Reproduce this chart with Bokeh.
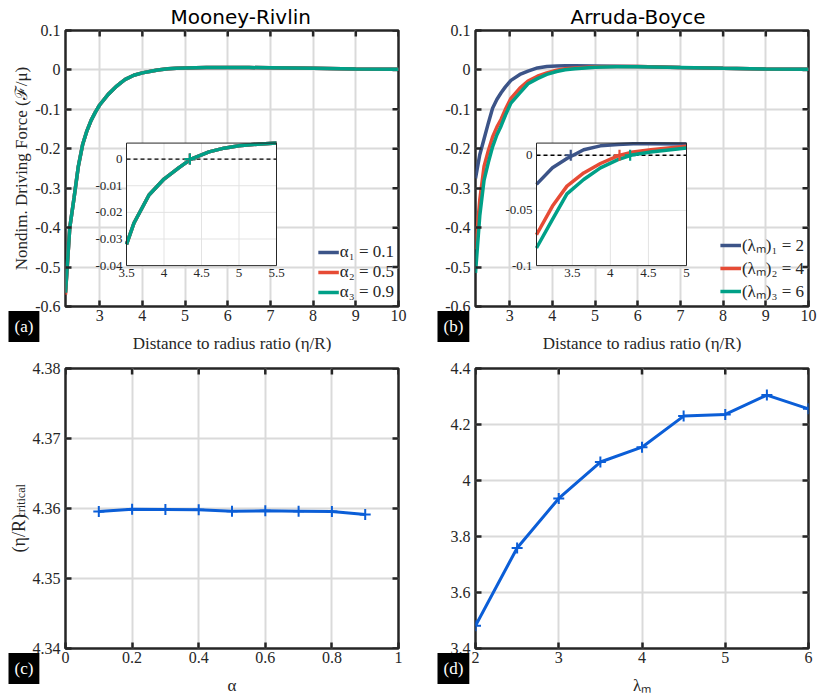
import math
from bokeh.plotting import figure
from bokeh.models import (Range1d, FixedTicker, CustomJSTickFormatter,
                          Legend, LegendItem, Title)
from bokeh.layouts import gridplot
from bokeh.embed import file_html
from bokeh.resources import INLINE

# ---------------- data ----------------
eta_mr = [2.2, 2.3, 2.4, 2.5, 2.6, 2.7, 2.8, 2.9, 3.0, 3.2, 3.4, 3.5, 3.6, 3.8, 4.0,
          4.2, 4.36, 4.6, 4.8, 5.0, 5.25, 5.5, 6.0, 6.5, 7.0, 8.0, 9.0, 10.0]
mr_alpha1 = [-0.565, -0.40, -0.325, -0.245, -0.19, -0.155, -0.128, -0.107, -0.089, -0.062,
             -0.041, -0.032, -0.024, -0.0135, -0.0075, -0.0032, 0.0, 0.0027, 0.0041, 0.005,
             0.0056, 0.006, 0.0062, 0.006, 0.0055, 0.004, 0.0025, 0.0015]
mr_alpha2 = [-0.57, -0.40, -0.325, -0.245, -0.19, -0.155, -0.128, -0.107, -0.089, -0.062,
             -0.041, -0.032, -0.024, -0.0135, -0.0075, -0.0032, 0.0, 0.0027, 0.0041, 0.005,
             0.0056, 0.006, 0.0062, 0.006, 0.0055, 0.004, 0.0025, 0.0015]
mr_alpha3 = [-0.565, -0.40, -0.325, -0.245, -0.19, -0.155, -0.128, -0.107, -0.089, -0.062,
             -0.041, -0.032, -0.024, -0.0135, -0.0075, -0.0032, 0.0, 0.0027, 0.0041, 0.005,
             0.0056, 0.006, 0.0062, 0.006, 0.0055, 0.004, 0.0025, 0.0015]
mr_labels = ["α₁ = 0.1", "α₂ = 0.5", "α₃ = 0.9"]
mr_cross = [4.345, 4.345, 4.345]

eta_ab = [2.2, 2.3, 2.4, 2.5, 2.6, 2.7, 2.8, 2.9, 3.03, 3.24, 3.43, 3.65, 3.87, 4.1,
          4.3, 4.53, 5.0, 5.5, 6.0, 7.0, 8.0, 9.0, 10.0]
ab_lam1 = [-0.275, -0.215, -0.175, -0.135, -0.097, -0.075, -0.058, -0.043, -0.0264, -0.0114,
           -0.003, 0.005, 0.0085, 0.0098, 0.0103, 0.0105, 0.0102, 0.0095, 0.0085, 0.006,
           0.004, 0.0025, 0.0015]
ab_lam2 = [-0.455, -0.33, -0.245, -0.205, -0.17, -0.145, -0.125, -0.10, -0.072, -0.046,
           -0.028, -0.016, -0.0075, -0.0005, 0.003, 0.005, 0.0081, 0.0088, 0.0085, 0.006,
           0.004, 0.0025, 0.0015]
ab_lam3 = [-0.515, -0.37, -0.28, -0.235, -0.195, -0.165, -0.142, -0.115, -0.084, -0.058,
           -0.035, -0.022, -0.0114, -0.004, 0.0005, 0.003, 0.0066, 0.0078, 0.008, 0.006,
           0.004, 0.0025, 0.0015]
ab_labels = ["(λₘ)₁ = 2", "(λₘ)₂ = 4", "(λₘ)₃ = 6"]
ab_cross = [3.48, 4.12, 4.26]

alpha_vals = [0.1, 0.2, 0.3, 0.4, 0.5, 0.6, 0.7, 0.8, 0.9]
crit_alpha = [4.35957, 4.35990, 4.35986, 4.35981, 4.35962, 4.35967, 4.35962, 4.35957, 4.35914]
lam_vals = [2.0, 2.5, 3.0, 3.5, 4.0, 4.5, 5.0, 5.5, 6.0]
crit_lam = [3.481, 3.759, 3.936, 4.066, 4.119, 4.230, 4.236, 4.305, 4.256]

top_xticks = [3, 4, 5, 6, 7, 8, 9, 10]
top_yticks = [-0.6, -0.5, -0.4, -0.3, -0.2, -0.1, 0.0, 0.1]
c_xticks = [0, 0.2, 0.4, 0.6, 0.8, 1.0]
c_yticks = [4.34, 4.35, 4.36, 4.37, 4.38]
d_xticks = [2, 3, 4, 5, 6]
d_yticks = [3.4, 3.6, 3.8, 4.0, 4.2, 4.4]
mr_in_xticks = [3.5, 4, 4.5, 5, 5.5]
mr_in_yticks = [-0.04, -0.03, -0.02, -0.01, 0.0]
ab_in_xticks = [3.5, 4, 4.5, 5]
ab_in_yticks = [-0.1, -0.05, 0.0]

colors = ["#3C5488", "#E64B35", "#00A087"]
line_blue = "#0B5ED7"
DARK = "#262626"
SERIF = "Liberation Serif"

fmt_code = "return String(parseFloat(tick.toFixed(4)));"


def style_axis(ax, ticks, standoff=5):
    ax.ticker = FixedTicker(ticks=ticks)
    ax.formatter = CustomJSTickFormatter(code=fmt_code)
    ax.axis_line_color = None
    ax.major_tick_in = 6
    ax.major_tick_out = 0
    ax.major_tick_line_color = DARK
    ax.major_tick_line_width = 2.5
    ax.minor_tick_line_color = None
    ax.major_label_text_font = SERIF
    ax.major_label_text_color = DARK
    ax.major_label_text_font_size = "16px"
    ax.major_label_standoff = standoff
    ax.axis_label_text_font = SERIF
    ax.axis_label_text_font_style = "normal"
    ax.axis_label_text_font_size = "17px"
    ax.axis_label_text_color = DARK
    ax.axis_label_standoff = 1


def base_fig(height, xr, yr, xt, yt, left, right, top, bottom):
    p = figure(width=409, height=height, x_range=Range1d(*xr), y_range=Range1d(*yr),
               output_backend="svg", toolbar_location=None,
               min_border_left=left, min_border_right=right,
               min_border_top=top, min_border_bottom=bottom)
    style_axis(p.below[0], xt, standoff=3)
    style_axis(p.left[0], yt)
    p.outline_line_color = DARK
    p.outline_line_width = 2.5
    p.outline_line_alpha = 1.0
    for g in (p.xgrid[0], p.ygrid[0]):
        g.grid_line_color = "#dadada"
        g.grid_line_width = 2
    p.background_fill_color = "white"
    p.border_fill_color = "white"
    p.ray(x=xt, y=[yr[1]] * len(xt), length=6, length_units="screen",
          angle=-math.pi / 2, line_color=DARK, line_width=2.5)
    p.ray(x=[xr[1]] * len(yt), y=yt, length=6, length_units="screen",
          angle=math.pi, line_color=DARK, line_width=2.5)
    return p


def add_inset(p, xs, ys, data_x, series, cross, xt_in, yt_in, box_px, frame_px):
    fx0, fx1 = p.x_range.start, p.x_range.end
    fy0, fy1 = p.y_range.start, p.y_range.end
    fw, fh = frame_px
    l, r, t, b = box_px
    xt0 = fx0 + l / fw * (fx1 - fx0)
    xt1 = fx0 + r / fw * (fx1 - fx0)
    yt1 = fy1 - t / fh * (fy1 - fy0)
    yt0 = fy1 - b / fh * (fy1 - fy0)
    sub = p.subplot(x_source=Range1d(*xs), y_source=Range1d(*ys),
                    x_target=Range1d(xt0, xt1), y_target=Range1d(yt0, yt1))
    sub.quad(left=[xs[0]], right=[xs[1]], bottom=[ys[0]], top=[ys[1]],
             fill_color="white", line_color=None)
    sub.segment(x0=xt_in, y0=[ys[0]] * len(xt_in), x1=xt_in, y1=[ys[1]] * len(xt_in),
                line_color="#e3e3e3", line_width=1)
    sub.segment(x0=[xs[0]] * len(yt_in), y0=yt_in, x1=[xs[1]] * len(yt_in), y1=yt_in,
                line_color="#e3e3e3", line_width=1)
    sub.line(x=[xs[0], xs[1]], y=[0, 0], line_color="black", line_width=1.3,
             line_dash="4 3")
    for vals, c in zip(series, colors):
        px = [x for x in data_x if xs[0] <= x <= xs[1]]
        py = [v for x, v in zip(data_x, vals) if xs[0] <= x <= xs[1]]
        sub.line(x=px, y=py, line_color=c, line_width=3.5)
    sub.scatter(x=cross, y=[0.0] * len(cross), marker="cross", size=11, line_width=2.2,
                line_color=colors)
    sub.quad(left=[xs[0]], right=[xs[1]], bottom=[ys[0]], top=[ys[1]],
             fill_color=None, line_color=DARK, line_width=1)
    sub.text(x=[xs[0]] * len(yt_in), y=yt_in,
             text=[("%g" % t) if t != 0 else "0" for t in yt_in],
             text_align="right", text_baseline="middle", x_offset=-4,
             text_font=SERIF, text_font_size="13px", text_color=DARK)
    sub.text(x=xt_in, y=[ys[0]] * len(xt_in),
             text=["%g" % t for t in xt_in],
             text_align="center", text_baseline="top", y_offset=3,
             text_font=SERIF, text_font_size="13px", text_color=DARK)


def add_legend(p, renderers, labels):
    leg = Legend(items=[LegendItem(label=lab, renderers=[r]) for lab, r in zip(labels, renderers)],
                 location="bottom_right")
    leg.label_text_font = SERIF
    leg.label_text_font_size = "17px"
    leg.label_text_color = DARK
    leg.glyph_width = 21
    leg.glyph_height = 18
    leg.label_height = 18
    leg.label_standoff = 1
    leg.spacing = 0
    leg.padding = 3
    leg.margin = 4
    leg.border_line_color = None
    leg.background_fill_alpha = 0
    p.add_layout(leg)


def set_standoff(t, s):
    try:
        t.standoff = s
    except Exception:
        t.standoff = 0


def below_labels(p, badge_text, badge_offset, xlabel):
    # badge box (takes no room of its own), then the x-axis label
    b = Title(text=badge_text, align="left", vertical_align="top", offset=badge_offset,
              text_color="white", text_font=SERIF, text_font_size="17px",
              text_font_style="normal", background_fill_color="black", padding=6)
    set_standoff(b, -25)
    p.add_layout(b, "below")
    xl = Title(text=xlabel, align="center", text_font=SERIF, text_font_size="17px",
               text_font_style="normal", text_color=DARK)
    set_standoff(xl, 0)
    p.add_layout(xl, "below")


def title(p, text, offset):
    p.title = Title(text=text, align="left", offset=offset, text_font="DejaVu Sans",
                    text_font_size="20px", text_font_style="normal", text_color="black",
                    standoff=4)


TOP_H, BOT_H = 352, 345
FRAME_TOP = (333, 277)

# ---------- (a) Mooney-Rivlin ----------
pa = base_fig(TOP_H, (2.2, 10), (-0.6, 0.1), top_xticks, top_yticks, 65, 11, 29, 46)
title(pa, "Mooney-Rivlin", 105)
pa.left[0].axis_label = "Nondim. Driving Force (ℱ/μ)"
rs = [pa.line(eta_mr, v, line_color=c, line_width=3.5)
      for v, c in zip([mr_alpha1, mr_alpha2, mr_alpha3], colors)]
add_inset(pa, (3.5, 5.5), (-0.04, 0.006), eta_mr, [mr_alpha1, mr_alpha2, mr_alpha3],
          mr_cross, mr_in_xticks, mr_in_yticks, (61, 211, 113, 236), FRAME_TOP)
add_legend(pa, rs, mr_labels)
below_labels(pa, "(a)", -57, "Distance to radius ratio (η/R)")

# ---------- (b) Arruda-Boyce ----------
pb = base_fig(TOP_H, (2.2, 10), (-0.6, 0.1), top_xticks, top_yticks, 66, 10, 29, 46)
title(pb, "Arruda-Boyce", 95)
rs = [pb.line(eta_ab, v, line_color=c, line_width=3.5)
      for v, c in zip([ab_lam1, ab_lam2, ab_lam3], colors)]
add_inset(pb, (3.03, 5.0), (-0.1, 0.011), eta_ab, [ab_lam1, ab_lam2, ab_lam3],
          ab_cross, ab_in_xticks, ab_in_yticks, (61, 211, 113, 236), FRAME_TOP)
add_legend(pb, rs, ab_labels)
below_labels(pb, "(b)", -38, "Distance to radius ratio (η/R)")

# ---------- (c) critical vs alpha ----------
pc = base_fig(BOT_H, (0, 1), (4.34, 4.38), c_xticks, c_yticks, 65, 11, 16, 49)
pc.line(alpha_vals, crit_alpha, line_color=line_blue, line_width=3)
pc.scatter(alpha_vals, crit_alpha, marker="cross", size=11, line_width=2,
           line_color=line_blue)
yl1 = Title(text="(η/R)", align="left", offset=96, text_font=SERIF,
            text_font_size="18px", text_font_style="normal", text_color=DARK)
set_standoff(yl1, 2)
pc.add_layout(yl1, "left")
yl2 = Title(text="critical", align="left", offset=131, text_font=SERIF,
            text_font_size="12px", text_font_style="normal", text_color=DARK)
set_standoff(yl2, -45)
pc.add_layout(yl2, "left")
below_labels(pc, "(c)", -57, "α")

# ---------- (d) critical vs lambda_m ----------
pd_ = base_fig(BOT_H, (2, 6), (3.4, 4.4), d_xticks, d_yticks, 66, 10, 16, 49)
pd_.line(lam_vals, crit_lam, line_color=line_blue, line_width=3)
pd_.scatter(lam_vals, crit_lam, marker="cross", size=11, line_width=2,
            line_color=line_blue)
below_labels(pd_, "(d)", -38, "λₘ")

grid = gridplot([[pa, pb], [pc, pd_]], toolbar_location=None)
open("out.html", "w").write(file_html(grid, INLINE))
